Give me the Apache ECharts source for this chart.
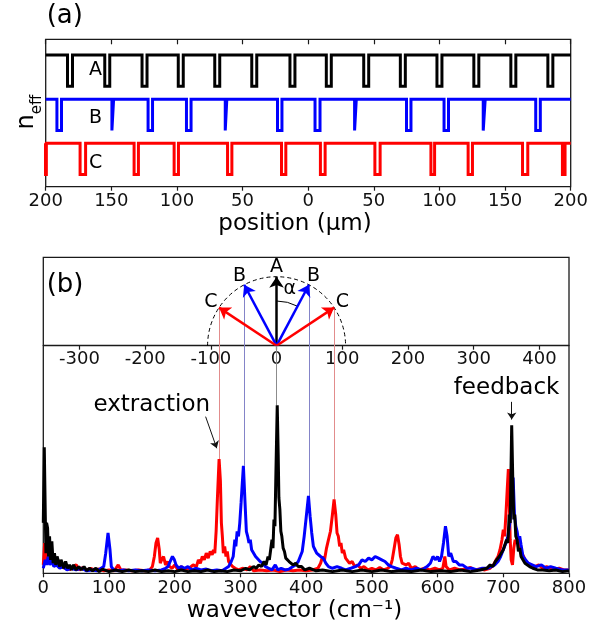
<!DOCTYPE html>
<html><head><meta charset="utf-8">
<script src="https://cdn.jsdelivr.net/npm/echarts@6/dist/echarts.min.js"></script>
<style>html,body{margin:0;padding:0;background:#fff}#c{width:606px;height:627px}</style>
</head><body><div id="c"></div>
<script>
// ---------------- data: panel (a) ----------------
const traceNames = ['A', 'B', 'C'];
const traceColors = ['#000000', '#0000ff', '#ff0000'];
const traceHigh = [8.93, 5.93, 2.94];
const dipDepth = 2.12;
const dipsA = [-181.5, -153.1, -124.7, -97.1, -69.3, -41.1, -12.0, 15.7, 44.2, 72.1, 100.0, 128.1, 156.3, 184.5];
const widthsA = [3.8, 3.8, 3.8, 3.8, 3.8, 3.8, 3.8, 3.8, 3.8, 3.8, 3.8, 3.8, 3.8, 3.8];
const dipsB = [-189.7, -148.9, -120.3, -91.0, -62.6, -21.7, 7.1, 36.0, 76.6, 105.2, 134.1, 175.1];
const widthsB = [3.5, 1.3, 3.4, 3.5, 1.2, 3.4, 3.8, 1.3, 3.4, 3.4, 1.5, 3.5];
const dipsC = [-200.5, -171.7, -131.0, -100.5, -59.8, -18.7, 11.1, 52.8, 94.9, 123.5, 165.3, 194.7];
const widthsC = [2.0, 4.2, 3.3, 3.3, 3.3, 3.3, 3.6, 4.0, 2.8, 3.3, 4.0, 2.0];
const positionLabelAt = -162;
const traceLabelY = [7.9, 4.65, 1.6];

// ---------------- data: panel (b) ----------------
const spectrumRed = [[0,0.05],[2,0.18],[4,0.08],[6,0.22],[8,0.1],[10,0.16],[12,0.06],[14,0.1],[17,0.05],[20,0.07],[24,0.04],[28,0.05],[32,0.03],[36,0.04],[40,0.02],[45,0.04],[50,0.05],[55,0.02],[60,0.035],[66,0.02],[72,0.03],[78,0.02],[85,0.025],[92,0.015],[100,0.02],[108,0.015],[114,0.05],[118,0.02],[125,0.02],[135,0.015],[145,0.02],[155,0.015],[162,0.02],[166,0.04],[169,0.1],[171.5,0.18],[174,0.21],[176.5,0.14],[178,0.06],[180,0.08],[183,0.1],[186,0.05],[189,0.07],[192,0.04],[196,0.03],[200,0.05],[205,0.02],[210,0.04],[215,0.02],[222,0.03],[228,0.05],[233,0.04],[236,0.08],[239,0.06],[242,0.1],[245,0.08],[248,0.12],[251,0.09],[254,0.13],[257,0.11],[259,0.14],[261,0.12],[263,0.25],[265,0.45],[267.5,0.68],[269.5,0.55],[271,0.3],[272.5,0.22],[274,0.12],[276,0.16],[278,0.1],[280,0.13],[282,0.07],[285,0.08],[288,0.04],[292,0.03],[297,0.02],[303,0.03],[310,0.02],[315,0.04],[320,0.015],[330,0.02],[340,0.015],[350,0.02],[360,0.01],[370,0.02],[380,0.015],[390,0.02],[400,0.015],[410,0.02],[418,0.03],[422,0.06],[425,0.1],[428,0.08],[431,0.15],[434,0.2],[437,0.25],[440,0.35],[442.5,0.44],[445,0.35],[447,0.24],[449,0.22],[451,0.16],[453,0.18],[455,0.12],[457,0.14],[460,0.09],[463,0.1],[466,0.06],[470,0.07],[474,0.04],[478,0.05],[483,0.03],[488,0.04],[494,0.02],[500,0.03],[506,0.02],[512,0.035],[518,0.02],[524,0.03],[528,0.04],[531,0.08],[534,0.15],[536.5,0.21],[539,0.23],[541.5,0.17],[543.5,0.1],[546,0.06],[549,0.07],[552,0.05],[556,0.06],[560,0.03],[566,0.04],[572,0.02],[580,0.03],[588,0.02],[596,0.03],[603,0.02],[608,0.03],[611,0.1],[613,0.04],[618,0.02],[626,0.03],[634,0.02],[642,0.025],[650,0.035],[656,0.02],[664,0.025],[672,0.02],[680,0.03],[685,0.05],[689,0.08],[692,0.1],[695,0.14],[698,0.2],[700,0.26],[702,0.22],[704,0.35],[706,0.5],[707.7,0.62],[709,0.45],[710.5,0.2],[712,0.08],[714,0.05],[716,0.15],[718,0.2],[720,0.18],[722,0.22],[724,0.16],[726,0.15],[728,0.12],[731,0.1],[734,0.07],[738,0.06],[742,0.05],[748,0.04],[754,0.05],[760,0.03],[766,0.04],[772,0.03],[778,0.02],[785,0.03],[792,0.02],[800,0.02]];
const spectrumBlue = [[0,0.03],[3,0.08],[5,0.05],[7.5,0.1],[10,0.05],[13,0.08],[16,0.04],[20,0.05],[25,0.03],[30,0.04],[36,0.02],[42,0.03],[50,0.02],[58,0.03],[66,0.015],[74,0.02],[82,0.015],[88,0.03],[92,0.04],[95,0.12],[98.5,0.24],[101.5,0.14],[103.5,0.04],[107,0.02],[115,0.015],[122,0.02],[130,0.015],[140,0.02],[150,0.015],[160,0.02],[170,0.015],[180,0.02],[186,0.03],[190,0.04],[193,0.07],[196.5,0.1],[199.5,0.08],[202,0.05],[206,0.03],[210,0.04],[215,0.03],[220,0.04],[226,0.02],[232,0.03],[240,0.02],[248,0.025],[256,0.015],[264,0.02],[272,0.015],[278,0.03],[282,0.04],[286,0.07],[289,0.1],[291.5,0.2],[293,0.16],[295,0.25],[297,0.22],[299,0.3],[301,0.42],[304.5,0.64],[307,0.42],[309,0.25],[311,0.22],[313,0.18],[315,0.2],[317,0.14],[320,0.13],[323,0.1],[326,0.11],[330,0.07],[334,0.06],[338,0.04],[343,0.03],[348,0.02],[353,0.05],[357,0.02],[362,0.03],[368,0.02],[374,0.025],[380,0.04],[384,0.05],[388,0.07],[391,0.1],[394,0.13],[397,0.22],[400,0.33],[403.5,0.46],[406,0.34],[408.5,0.24],[411,0.16],[413.5,0.14],[416,0.12],[419,0.13],[422,0.1],[426,0.09],[430,0.06],[434,0.04],[440,0.03],[447,0.04],[454,0.03],[460,0.02],[468,0.03],[475,0.04],[480,0.05],[485,0.08],[490,0.07],[495,0.09],[500,0.08],[505,0.1],[510,0.09],[515,0.08],[520,0.07],[525,0.05],[530,0.04],[537,0.03],[545,0.02],[552,0.03],[560,0.02],[568,0.03],[576,0.02],[584,0.04],[589,0.06],[593,0.1],[597,0.08],[600,0.1],[603,0.07],[606,0.1],[609,0.18],[612,0.28],[614.5,0.22],[617,0.1],[620,0.12],[624,0.07],[628,0.07],[633,0.05],[638,0.05],[645,0.03],[652,0.03],[660,0.02],[668,0.03],[676,0.03],[682,0.04],[687,0.05],[692,0.07],[696,0.1],[700,0.14],[704,0.18],[707,0.22],[710,0.3],[712.5,0.4],[715,0.57],[717,0.35],[719,0.28],[721,0.25],[723,0.2],[725,0.22],[727,0.17],[730,0.1],[734,0.08],[738,0.06],[744,0.05],[750,0.04],[758,0.05],[765,0.03],[772,0.04],[780,0.03],[790,0.02],[800,0.02]];
const spectrumBlack = [[0,0.3],[1.5,0.75],[3,0.35],[4,0.12],[5,0.3],[6.5,0.27],[8,0.1],[9.5,0.22],[11,0.08],[13,0.19],[15,0.06],[17,0.12],[19,0.05],[21,0.1],[23,0.11],[25,0.04],[27,0.08],[29,0.06],[31,0.03],[34,0.07],[37,0.03],[40,0.05],[43,0.02],[46,0.05],[50,0.02],[54,0.04],[58,0.02],[62,0.04],[66,0.015],[70,0.03],[75,0.015],[80,0.03],[85,0.01],[90,0.025],[100,0.01],[110,0.02],[120,0.01],[130,0.02],[140,0.01],[150,0.015],[160,0.01],[170,0.02],[180,0.01],[190,0.015],[200,0.01],[210,0.02],[220,0.01],[230,0.015],[240,0.01],[250,0.02],[260,0.01],[270,0.015],[280,0.01],[290,0.02],[300,0.015],[308,0.03],[314,0.02],[320,0.04],[324,0.03],[328,0.05],[332,0.04],[336,0.07],[339,0.05],[342,0.1],[344,0.08],[346,0.14],[348,0.2],[349.5,0.15],[351,0.32],[352.5,0.28],[354,0.6],[356,1.0],[357.5,0.7],[358.5,0.45],[360,0.38],[361.5,0.25],[363,0.22],[365,0.15],[367,0.13],[369,0.09],[371,0.1],[374,0.07],[377,0.08],[380,0.05],[384,0.06],[388,0.04],[393,0.04],[398,0.02],[405,0.03],[415,0.015],[425,0.02],[440,0.01],[455,0.02],[470,0.01],[485,0.02],[500,0.01],[515,0.02],[530,0.01],[545,0.015],[560,0.01],[575,0.02],[590,0.01],[605,0.015],[620,0.01],[635,0.02],[650,0.01],[665,0.02],[675,0.03],[680,0.05],[684,0.04],[688,0.07],[691,0.06],[694,0.1],[697,0.09],[700,0.14],[703,0.13],[705,0.2],[707,0.18],[709,0.35],[710.5,0.3],[712.8,0.88],[714.5,0.55],[716,0.32],[717.5,0.35],[719,0.22],[721,0.2],[723,0.13],[725,0.15],[727,0.1],[730,0.09],[733,0.06],[736,0.07],[740,0.04],[745,0.03],[752,0.02],[760,0.02],[770,0.015],[780,0.02],[790,0.01],[800,0.015]];

const wavevectorTicks = [0, 100, 200, 300, 400, 500, 600, 700, 800];
const insetTicks = [-300, -200, -100, 0, 100, 200, 300, 400];
const insetZero = 355;            // wavevector at which the inset axis reads 0
const vectorLabels = ['A', 'B', 'B', 'C', 'C'];
const vectorAngles = [0, -28, 28, -56.5, 56.5];   // degrees from vertical
const vectorRadius = 105;
const alphaAngle = 28;
const annotations = [
  { text: 'extraction', at: [165, 1.0], from: [247, 0.932], to: [264, 0.744] },
  { text: 'feedback', at: [705, 1.103], from: [712.8, 1.02], to: [712.8, 0.915] }
];

// ---------------- layout / style ----------------
const FONT = 'DejaVu Sans';
const gA = { left: 45.7, top: 39.3, width: 525, height: 147.4 };
const gB = { left: 43.3, top: 257.3, width: 525.7, height: 316 };
const insetH = 88.4;
const insetYMax = 800 * insetH / gB.width;
const specYMax = 1.88;
const vecColor = { A: '#000000', B: '#0000ff', C: '#ff0000' };
const connColor = { A: '#8c8c8c', B: '#8484c8', C: '#e28c8c' };
const specOf = { A: spectrumBlack, B: spectrumBlue, C: spectrumRed };

function trace(centers, widths, high) {
  const low = high - dipDepth;
  const pts = [];
  centers.forEach((c, i) => {
    const w = widths[i];
    pts.push([c - w / 2, high], [c - w / 2, low], [c + w / 2, low], [c + w / 2, high]);
  });
  if (pts[0][0] > -200) pts.unshift([-200, high]);
  if (pts[pts.length - 1][0] < 200) pts.push([200, high]);
  return pts;
}
const traces = [trace(dipsA, widthsA, traceHigh[0]), trace(dipsB, widthsB, traceHigh[1]), trace(dipsC, widthsC, traceHigh[2])];

const rad = d => d * Math.PI / 180;
const tips = vectorAngles.map(a => [vectorRadius * Math.sin(rad(a)), vectorRadius * Math.cos(rad(a))]);
const labelPts = vectorAngles.map((a, i) => ({
  value: [120 * Math.sin(rad(a)), 120 * Math.cos(rad(a))], name: vectorLabels[i]
}));

const hidden = { show: false };
const clearItem = { color: 'rgba(0,0,0,0)', opacity: 1 };
const textLabel = size => ({ show: true, position: 'inside', formatter: p => p.name, fontSize: size, color: '#000', opacity: 1, fontFamily: FONT });
const option = {
  animation: false,
  textStyle: { fontFamily: FONT },
  grid: [
    Object.assign({ show: true, borderColor: '#1a1a1a', borderWidth: 1.3, containLabel: false }, gA),
    Object.assign({ show: true, borderColor: '#1a1a1a', borderWidth: 1.3, containLabel: false }, gB),
    { left: gB.left, top: gB.top, width: gB.width, height: insetH, show: false }
  ],
  xAxis: [
    { type: 'value', gridIndex: 0, min: -200, max: 200, interval: 50,
      axisLine: hidden, splitLine: hidden,
      axisTick: { show: true, inside: false, length: 4, lineStyle: { color: '#1a1a1a', width: 1.2 } },
      axisLabel: { margin: 6, fontSize: 18, color: '#111', fontFamily: FONT, formatter: v => String(Math.abs(v)) } },
    { type: 'value', gridIndex: 0, position: 'top', min: -200, max: 200, interval: 50,
      axisLine: hidden, splitLine: hidden, axisLabel: hidden,
      axisTick: { show: true, inside: true, length: 5, lineStyle: { color: '#1a1a1a', width: 1.2 } } },
    { type: 'value', gridIndex: 1, min: 0, max: 800, interval: 100,
      axisLine: hidden, splitLine: hidden,
      axisTick: { show: true, inside: false, length: 4, lineStyle: { color: '#1a1a1a', width: 1.2 } },
      axisLabel: { margin: 6, fontSize: 18, color: '#111', fontFamily: FONT } },
    { type: 'value', gridIndex: 2, min: -insetZero, max: 800 - insetZero,
      axisLine: { show: true, onZero: false, lineStyle: { color: '#1a1a1a', width: 1.3 } },
      splitLine: hidden,
      axisTick: { show: true, inside: false, length: 4, customValues: insetTicks, lineStyle: { color: '#1a1a1a', width: 1.2 } },
      axisLabel: { margin: 5, fontSize: 18, color: '#111', fontFamily: FONT, customValues: insetTicks } }
  ],
  yAxis: [
    { type: 'value', gridIndex: 0, min: 0, max: 10, axisLine: hidden, axisTick: hidden, axisLabel: hidden, splitLine: hidden },
    { type: 'value', gridIndex: 1, min: 0, max: specYMax, axisLine: hidden, axisTick: hidden, axisLabel: hidden, splitLine: hidden },
    { type: 'value', gridIndex: 2, min: 0, max: insetYMax, axisLine: hidden, axisTick: hidden, axisLabel: hidden, splitLine: hidden }
  ],
  graphic: [
    { type: 'text', x: 46.7, y: 15.8, style: { text: '(a)', font: '26px "DejaVu Sans"', fill: '#000', textVerticalAlign: 'middle' } },
    { type: 'text', x: 46.7, y: 285, style: { text: '(b)', font: '26px "DejaVu Sans"', fill: '#000', textVerticalAlign: 'middle' } },
    { type: 'text', x: 295, y: 224, style: { text: 'position (µm)', font: '23px "DejaVu Sans"', fill: '#000', textAlign: 'center', textVerticalAlign: 'middle' } },
    { type: 'text', x: 294.5, y: 611.5, style: { text: 'wavevector (cm⁻¹)', font: '23px "DejaVu Sans"', fill: '#000', textAlign: 'center', textVerticalAlign: 'middle' } },
    { type: 'text', x: 25, y: 112, rotation: Math.PI / 2,
      style: { text: '{n|n}{s|eff}', textAlign: 'center', textVerticalAlign: 'middle', fill: '#000',
        rich: { n: { fontSize: 24, fontFamily: FONT, lineHeight: 28, verticalAlign: 'bottom' },
                s: { fontSize: 15, fontFamily: FONT, lineHeight: 28, verticalAlign: 'bottom', padding: [0, 0, -6, 0] } } } }
  ],
  series: []
};

// panel (a) traces + labels
traces.forEach((pts, i) => {
  option.series.push({ type: 'line', xAxisIndex: 0, yAxisIndex: 0, data: pts, showSymbol: false, symbol: 'none',
    lineStyle: { color: traceColors[i], width: 3, join: 'miter', opacity: 1 }, z: 2 });
});
option.series.push({ type: 'scatter', xAxisIndex: 0, yAxisIndex: 0, symbolSize: 1, itemStyle: clearItem,
  data: traceNames.map((n, i) => ({ value: [positionLabelAt, traceLabelY[i]], name: n })),
  label: textLabel(19), z: 5 });

// panel (b) connectors (filled after layout), spectra
option.series.push({ id: 'connectors', type: 'lines', coordinateSystem: 'cartesian2d', xAxisIndex: 2, yAxisIndex: 1,
  data: [], lineStyle: { width: 1, opacity: 1 }, symbol: 'none', z: 1, silent: true });
[['#ff0000', spectrumRed], ['#0000ff', spectrumBlue], ['#000000', spectrumBlack]].forEach(([c, d], i) => {
  option.series.push({ type: 'line', xAxisIndex: 2, yAxisIndex: 1, data: d, showSymbol: false, symbol: 'none',
    lineStyle: { color: c, width: 3, opacity: 1 }, z: 2 + i });
});

// annotations
option.series.push({ type: 'lines', coordinateSystem: 'cartesian2d', xAxisIndex: 2, yAxisIndex: 1,
  symbol: ['none', 'arrow'], symbolSize: 7, lineStyle: { color: '#111', width: 1, opacity: 1 }, z: 6,
  data: annotations.map(a => ({ coords: [a.from, a.to] })) });
option.series.push({ type: 'scatter', xAxisIndex: 2, yAxisIndex: 1, symbolSize: 1, itemStyle: clearItem,
  data: annotations.map(a => ({ value: a.at, name: a.text })),
  label: textLabel(23), z: 6 });

// inset: semicircle, alpha arc, vectors, labels
option.series.push({ type: 'custom', xAxisIndex: 3, yAxisIndex: 2, coordinateSystem: 'cartesian2d', clip: false, z: 4,
  data: [[0, 0]],
  renderItem: (params, api) => {
    const c = api.coord([0, 0]);
    const r = api.size([vectorRadius, 0])[0];
    const ra = api.size([68, 0])[0];
    return { type: 'group', children: [
      { type: 'arc', shape: { cx: c[0], cy: c[1], r: r, startAngle: Math.PI, endAngle: 2 * Math.PI, clockwise: true },
        style: { stroke: '#000', fill: null, lineWidth: 1, lineDash: [4, 3] } },
      { type: 'arc', shape: { cx: c[0], cy: c[1], r: ra, startAngle: -Math.PI / 2, endAngle: -Math.PI / 2 + rad(alphaAngle), clockwise: true },
        style: { stroke: '#000', fill: null, lineWidth: 1 } }
    ] };
  } });
option.series.push({ type: 'lines', coordinateSystem: 'cartesian2d', xAxisIndex: 3, yAxisIndex: 2,
  symbol: ['none', 'arrow'], symbolSize: 11, z: 7,
  data: tips.map((t, i) => ({ coords: [[0, 0], t], lineStyle: { color: vecColor[vectorLabels[i]], width: 2.5, opacity: 1 } })) });
option.series.push({ type: 'scatter', xAxisIndex: 3, yAxisIndex: 2, symbolSize: 1, itemStyle: clearItem,
  data: labelPts.concat([{ value: [88 * Math.sin(rad(13.3)), 88 * Math.cos(rad(13.3))], name: 'α' }]),
  label: textLabel(19), z: 8 });

const chart = echarts.init(document.getElementById('c'), null, { renderer: 'canvas' });
chart.setOption(option);

// connectors: from each vector tip down to the matching spectral peak
function peakNear(spec, x, hw) { let m = 0; spec.forEach(([k, v]) => { if (Math.abs(k - x) <= hw && v > m) m = v; }); return m; }
const conn = tips.map((t, i) => {
  const name = vectorLabels[i];
  const px = chart.convertToPixel({ xAxisIndex: 3, yAxisIndex: 2 }, t);
  const top = chart.convertFromPixel({ xAxisIndex: 2, yAxisIndex: 1 }, px);
  const x = insetZero + t[0];
  const peak = peakNear(specOf[name], x, 6);
  return { coords: [[x, peak], [x, top[1]]], lineStyle: { color: connColor[name], width: 1, opacity: 1 } };
});
chart.setOption({ series: [{ id: 'connectors', data: conn }] });
</script>
</body></html>
